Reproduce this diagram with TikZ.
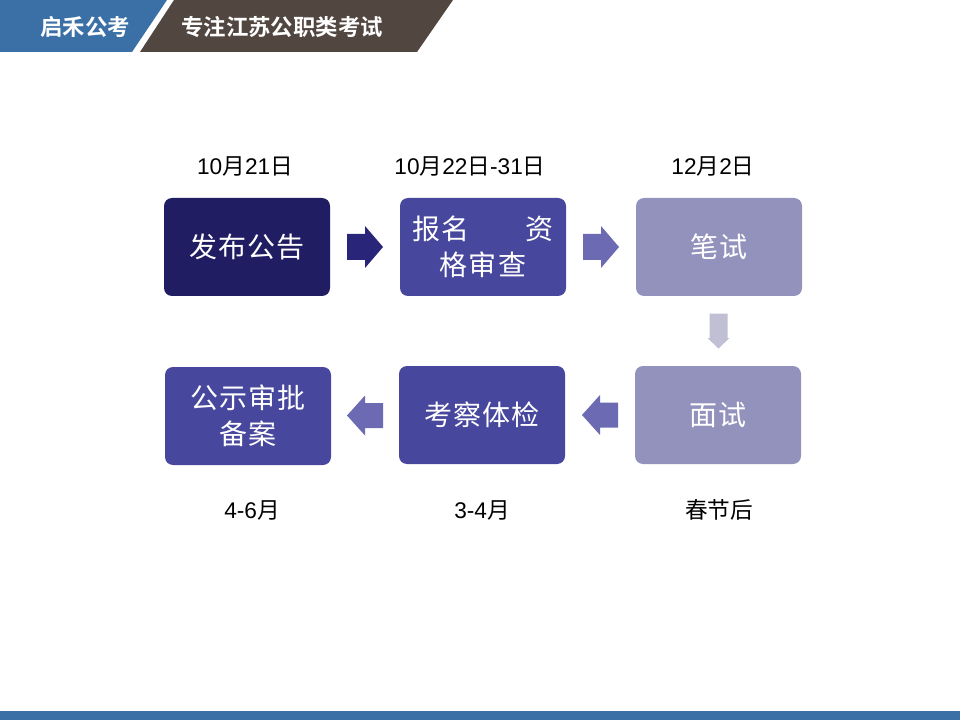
\documentclass[tikz,border=0pt]{standalone}
\usepackage{fontspec}
\setmainfont{Liberation Sans}
\newfontfamily\cjk{Noto Sans CJK SC}
\newfontfamily\cjkb{Noto Sans CJK SC Bold}
\usetikzlibrary{calc}
\definecolor{hdrblue}{HTML}{3A70A5}
\definecolor{hdrbrown}{HTML}{524641}
\definecolor{cdark}{HTML}{201D62}
\definecolor{cmid}{HTML}{48479E}
\definecolor{clight}{HTML}{9392BD}
\definecolor{adark}{HTML}{29267A}
\definecolor{amid}{HTML}{6B6AB3}
\definecolor{alight}{HTML}{C0BFD3}
\newcommand\yue{{\cjk 月}}
\newcommand\ri{{\cjk 日}}
\newcommand\gp{\hspace{1pt}}
\begin{document}
\begin{tikzpicture}[x=0.75pt,y=-0.75pt,
  stepbox/.style={rounded corners=6pt,minimum width=124.5pt,minimum height=73.5pt,
     inner sep=0pt,text=white,font=\cjk\fontsize{21}{27}\selectfont,align=center},
  datelbl/.style={font=\fontsize{17}{20}\selectfont,text=black,inner sep=0pt},
  hdr/.style={font=\cjkb\fontsize{16.8}{20}\selectfont,text=white,inner sep=0pt}]
\useasboundingbox (0,0) rectangle (960,720);
\fill[white] (0,0) rectangle (960,720);
% header
\fill[hdrblue] (0,0) -- (167,0) -- (132,52) -- (0,52) -- cycle;
\fill[hdrbrown] (174,0) -- (453,0) -- (417,52) -- (140,52) -- cycle;
\node[hdr] (h1) at (85,27) {启禾公考};
\node[hdr] (h2) at (282,27) {专注江苏公职类考试};
% bottom bar
\fill[hdrblue] (0,711) rectangle (960,720);
% boxes
\node[stepbox,fill=cdark] (b1) at (247,247) {发\gp 布\gp 公\gp 告};
\node[stepbox,fill=cmid] (b2) at (483,247) {报\gp 名\hspace{42pt}资\\格\gp 审\gp 查};
\node[stepbox,fill=clight] (b3) at (719,247) {笔\gp 试};
\node[stepbox,fill=clight] (b4) at (718,415) {面\gp 试};
\node[stepbox,fill=cmid] (b5) at (482,415) {考\gp 察\gp 体\gp 检};
\node[stepbox,fill=cmid] (b6) at (248,416) {公\gp 示\gp 审\gp 批\\备\gp 案};
% dates
\node[datelbl] (d1) at (245,167) {10\yue 21\ri};
\node[datelbl] (d2) at (470,167) {10\yue 22\ri-31\ri};
\node[datelbl] (d3) at (713,167) {12\yue 2\ri};
\node[datelbl] (d6) at (252,510) {4-6\yue};
\node[datelbl] (d5) at (482,510) {3-4\yue};
\node[datelbl,font=\cjk\fontsize{17}{20}\selectfont] (d4) at (719,510) {春节后};
% arrows
\coordinate (a1) at ($(b1.east)!0.5!(b2.west)$);
\fill[adark,shift={(a1)}] (-18,-13) -- (0,-13) -- (0,-21) -- (18,0) -- (0,21) -- (0,13) -- (-18,13) -- cycle;
\coordinate (a2) at ($(b2.east)!0.5!(b3.west)$);
\fill[amid,shift={(a2)}] (-18,-13) -- (0,-13) -- (0,-21) -- (18,0) -- (0,21) -- (0,13) -- (-18,13) -- cycle;
\coordinate (a3) at ($(b3.south)!0.5!(b4.north)$);
\fill[alight,shift={(a3)}] (-9,-17.5) -- (9,-17.5) -- (9,7) -- (11,7) -- (0,17.5) -- (-11,7) -- (-9,7) -- cycle;
\coordinate (a4) at ($(b4.west)!0.5!(b5.east)$);
\fill[amid,shift={(a4)}] (18,-12.5) -- (0,-12.5) -- (0,-20) -- (-18,0) -- (0,20) -- (0,12.5) -- (18,12.5) -- cycle;
\coordinate (a5) at ($(b5.west)!0.5!(b6.east)$);
\fill[amid,shift={(a5)}] (18,-12.5) -- (0,-12.5) -- (0,-20) -- (-18,0) -- (0,20) -- (0,12.5) -- (18,12.5) -- cycle;
\end{tikzpicture}
\end{document}
